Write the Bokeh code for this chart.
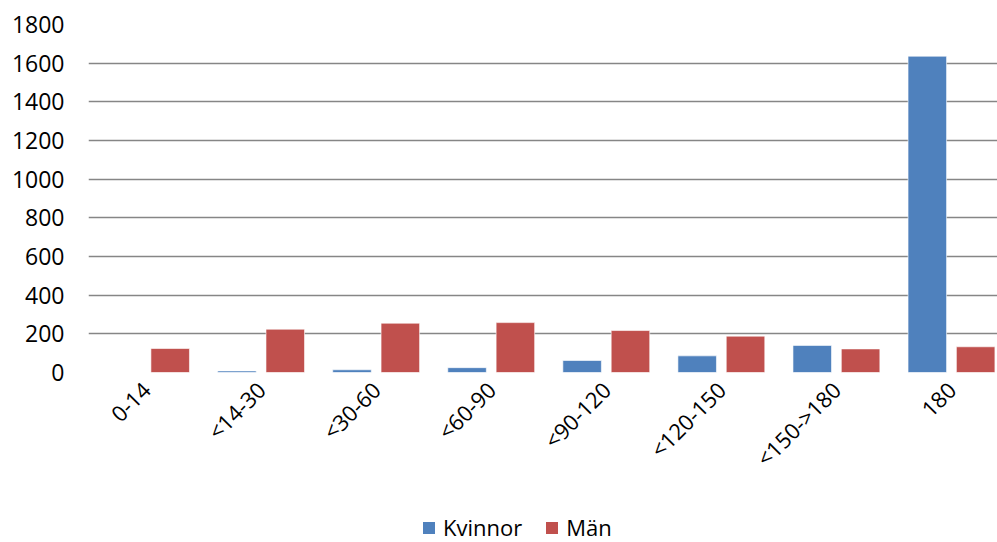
from bokeh.plotting import figure
from bokeh.layouts import column
from bokeh.models import ColumnDataSource, Range1d, FixedTicker, Legend, LegendItem
from bokeh.embed import file_html
from bokeh.resources import INLINE

categories = ["0-14", "<14-30", "<30-60", "<60-90", "<90-120", "<120-150", "<150->180", "180"]
kvinnor = [0, 8, 14, 25, 62, 86, 140, 1636]
man = [124, 224, 255, 258, 217, 188, 122, 133]
y_ticks = [0, 200, 400, 600, 800, 1000, 1200, 1400, 1600, 1800]
series_names = ["Kvinnor", "Män"]

BLUE = "#4F81BD"
RED = "#C0504D"
FONT = "Open Sans"

xs = [float(i) for i in range(len(categories))]
off = 0.21
w = 0.335
src = ColumnDataSource(dict(xk=[x - off for x in xs], xm=[x + off for x in xs],
                            kvinnor=kvinnor, man=man))

p = figure(width=997, height=508, output_backend="svg", toolbar_location=None,
           x_range=Range1d(-0.5, 7.40), y_range=Range1d(0, 1800),
           min_border_left=88, min_border_right=0, min_border_top=24, min_border_bottom=136,
           outline_line_color=None)

r1 = p.vbar(x="xk", top="kvinnor", width=w, source=src, fill_color=BLUE,
            line_color="white", line_alpha=0.6, line_width=1)
r2 = p.vbar(x="xm", top="man", width=w, source=src, fill_color=RED,
            line_color="white", line_alpha=0.6, line_width=1)

p.xgrid.visible = False
p.ygrid.grid_line_color = "#868686"
p.ygrid.grid_line_width = 1.5
p.ygrid.level = "underlay"

p.yaxis.ticker = FixedTicker(ticks=y_ticks)
p.yaxis.axis_line_color = None
p.yaxis.major_tick_line_color = None
p.yaxis.minor_tick_line_color = None
p.yaxis.major_tick_out = 0
p.yaxis.major_label_standoff = 24
p.yaxis.major_label_text_font = FONT
p.yaxis.major_label_text_font_size = "23px"
p.yaxis.major_label_text_color = "#000000"

p.xaxis.ticker = FixedTicker(ticks=xs)
p.xaxis.major_label_overrides = {i: c for i, c in enumerate(categories)}
p.xaxis.major_label_orientation = 0.785398
p.xaxis.axis_line_color = None
p.xaxis.major_tick_line_color = None
p.xaxis.minor_tick_line_color = None
p.xaxis.major_tick_out = 0
p.xaxis.major_label_standoff = 13
p.xaxis.major_label_text_font = FONT
p.xaxis.major_label_text_font_size = "22px"
p.xaxis.major_label_text_color = "#000000"

# legend strip below the chart (proxy renderers of zero size, only used for the legend keys)
lg = figure(width=997, height=34, output_backend="svg", toolbar_location=None,
            x_range=Range1d(0, 1), y_range=Range1d(0, 1),
            x_axis_type=None, y_axis_type=None,
            min_border_left=0, min_border_right=0, min_border_top=0, min_border_bottom=0,
            outline_line_color=None)
lg.grid.visible = False
proxy = ColumnDataSource(dict(x=[0], top=[0]))
d1 = lg.vbar(x="x", top="top", width=0, source=proxy, fill_color=BLUE, line_color=None)
d2 = lg.vbar(x="x", top="top", width=0, source=proxy, fill_color=RED, line_color=None)
legend = Legend(items=[LegendItem(label=series_names[0], renderers=[d1]),
                       LegendItem(label=series_names[1], renderers=[d2])],
                orientation="horizontal", location=(333, 0),
                label_text_font=FONT, label_text_font_size="22px", label_text_color="#000000",
                glyph_width=15, glyph_height=15, label_standoff=7, spacing=22,
                border_line_color=None, background_fill_alpha=0,
                padding=0, margin=0)
lg.add_layout(legend, "center")

layout = column(p, lg, spacing=0)
open("out.html", "w").write(file_html(layout, INLINE))
